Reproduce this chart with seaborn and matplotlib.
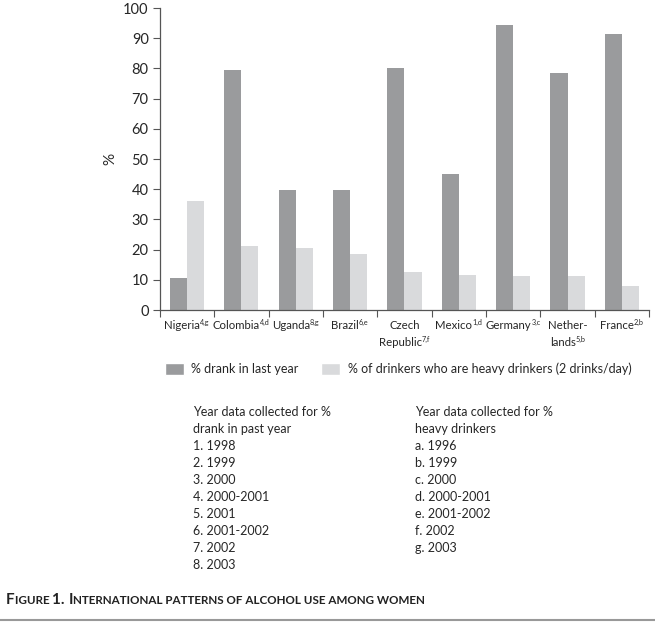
import pandas as pd
import matplotlib
matplotlib.use('Agg')
import matplotlib.pyplot as plt
import seaborn as sns
from matplotlib.patches import Patch
from matplotlib.lines import Line2D

countries = ['Nigeria', 'Colombia', 'Uganda', 'Brazil', 'Czech\nRepublic',
             'Mexico', 'Germany', 'Nether-\nlands', 'France']
notes = ['4,g', '4,d', '8,g', '6,e', '7,f', '1,d', '3,c', '5,b', '2,b']
drank = [10.5, 79.5, 39.9, 39.6, 80.2, 45.2, 94.4, 78.4, 91.4]
heavy = [36.2, 21.1, 20.6, 18.4, 12.6, 11.7, 11.3, 11.3, 8.0]
series = ['% drank in last year',
          '% of drinkers who are heavy drinkers (2 drinks/day)']
drank_years = ['1998', '1999', '2000', '2000-2001', '2001', '2001-2002', '2002', '2003']
heavy_years = ['1996', '1999', '2000', '2000-2001', '2001-2002', '2002', '2003']

sns.set_style('ticks')
plt.rcParams['font.family'] = ['Lato', 'DejaVu Sans']

df = pd.DataFrame({
    'country': countries * 2,
    'value': drank + heavy,
    'series': [series[0]] * len(countries) + [series[1]] * len(countries),
})

W, H = 655, 625
dark, light = '#9a9b9d', '#d9dadc'
fig = plt.figure(figsize=(W / 100, H / 100), dpi=100)
ax = fig.add_axes([0.244, 0.504, 0.747, 0.483])
sns.barplot(data=df, x='country', y='value', hue='series', order=countries,
            hue_order=series, palette=[dark, light], width=0.63,
            saturation=1, ax=ax, legend=False)
for p in ax.patches:
    p.set_edgecolor('none')

ax.set_ylim(0, 100)
ax.set_yticks(range(0, 101, 10))
ax.set_xlim(-0.5, len(countries) - 0.5)
ax.set_xticks([i - 0.5 for i in range(len(countries) + 1)])
ax.set_xticklabels([])
ax.tick_params(axis='x', length=5, direction='out', color='#555555')
ax.tick_params(axis='y', length=5, labelsize=10.5, color='#555555', pad=3)
ax.set_xlabel('')
ax.set_ylabel('%', fontsize=11, labelpad=4)
sns.despine(ax=ax)
for s in ['left', 'bottom']:
    ax.spines[s].set_color('#555555')
    ax.spines[s].set_linewidth(0.9)

# category labels with small superscript notes
renderer = fig.canvas.get_renderer()
for i, (c, n) in enumerate(zip(countries, notes)):
    cx = ax.transData.transform((i, 0))[0]
    lines = c.split('\n')
    for k, line in enumerate(lines):
        ybase = H - (329 + 17 * k)
        t = fig.text(cx / W, ybase / H, line, fontsize=8.2, ha='left',
                     va='baseline')
        w = t.get_window_extent(renderer).width
        if k == len(lines) - 1:
            s = fig.text(0, (ybase + 4) / H, n, fontsize=5.2, ha='left',
                         va='baseline')
            sw = s.get_window_extent(renderer).width
            x0 = cx - (w + sw) / 2
            t.set_x(x0 / W)
            s.set_x((x0 + w) / W)
        else:
            t.set_x((cx - w / 2) / W)

handles = [Patch(facecolor=dark), Patch(facecolor=light)]
fig.legend(handles, series, loc='center left', bbox_to_anchor=(0.235, 0.41),
           ncol=2, frameon=False, fontsize=9, handlelength=1.5,
           handleheight=1.1, columnspacing=1.8, handletextpad=0.6)

left = ['Year data collected for %', 'drank in past year'] + \
       [f'{i + 1}. {y}' for i, y in enumerate(drank_years)]
right = ['Year data collected for %', 'heavy drinkers'] + \
        [f'{chr(97 + i)}. {y}' for i, y in enumerate(heavy_years)]
for j, line in enumerate(left):
    fig.text(193 / W, 1 - (412 + 17 * j) / H, line, fontsize=9, va='center')
for j, line in enumerate(right):
    fig.text(415 / W, 1 - (412 + 17 * j) / H, line, fontsize=9, va='center')

# small-caps caption
parts = [('F', 11), ('IGURE ', 8.4), ('1. ', 11), ('I', 11),
         ('NTERNATIONAL PATTERNS OF ALCOHOL USE AMONG WOMEN', 8.4)]
x = 6
for txt, size in parts:
    t = fig.text(x / W, 1 - 604 / H, txt, fontsize=size, fontweight='bold',
                 va='baseline', color='#222222')
    x += t.get_window_extent(renderer).width

fig.add_artist(Line2D([0, 1], [1 - 620 / H] * 2, color='#999999', lw=1.5,
                      transform=fig.transFigure))

fig.savefig('out.png', dpi=100)
